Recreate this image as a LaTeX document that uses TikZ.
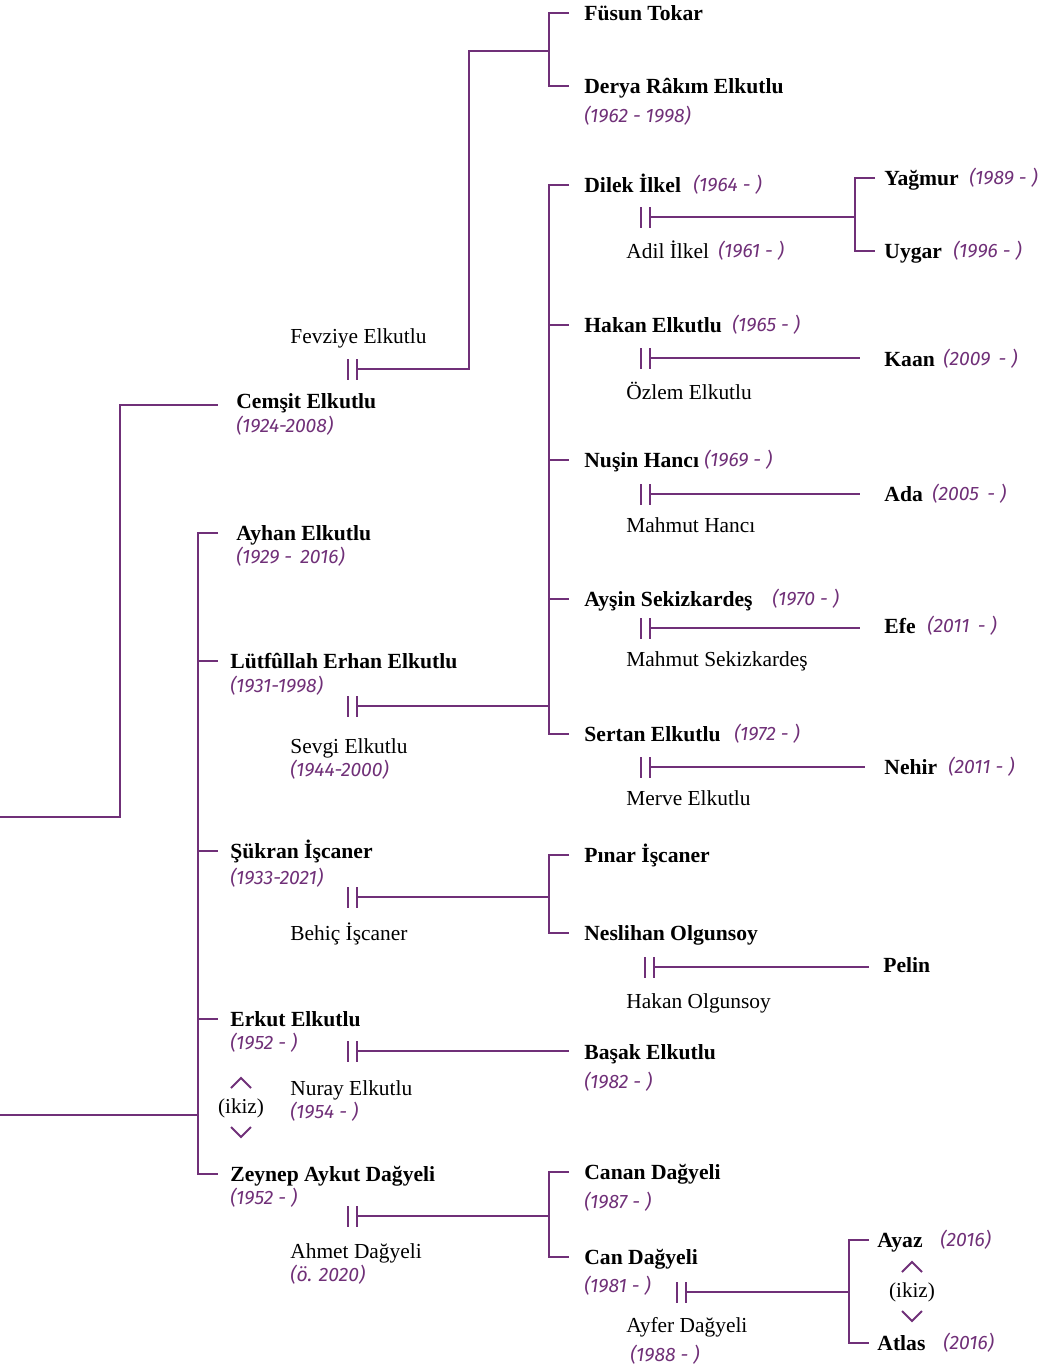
\documentclass[tikz,border=0pt]{standalone}
\usepackage{fontspec}
\setmainfont{Liberation Serif}
\newfontfamily\datefont{Fira Sans}
\usetikzlibrary{positioning}
\tikzstyle{every link} = []
\tikzstyle{link} = [draw=soy, line width=1pt, every link]
\tikzstyle{person} = [anchor=west, inner sep=0pt, text height=9pt, text depth=2pt, font=\fontsize{10.8}{12}\selectfont\bfseries]
\tikzstyle{spouse} = [person, font=\fontsize{10.7}{12}\selectfont]
\tikzstyle{yil} = [anchor=west, inner sep=0pt, text=soy, text height=8.5pt, text depth=2pt, font=\fontsize{9.7}{11}\selectfont\datefont\itshape]
\definecolor{soy}{RGB}{112,48,120}
% evlilik isareti: iki dik cizgi
\newcommand{\evlilik}[2]{\coordinate (#1) at (#2);
  \draw[link] ([yshift=5pt]#1) -- ([yshift=-5.5pt]#1)
    ([xshift=-4.5pt,yshift=5pt]#1) -- ([xshift=-4.5pt,yshift=-5.5pt]#1);}
\begin{document}
\begin{tikzpicture}[x=0.5pt, y=-0.5pt]
        \useasboundingbox (0,0) rectangle (1040,1367);

        % Cemsit kolu
        \coordinate (kok1) at (0,817);
        \coordinate (k-kok1) at (120,817);
        \node[person] (cemsit) at (236,401) {Cemşit Elkutlu};
        \node[yil] (cemsit-y) at (236,426) {(1924-2008)};
        \node[spouse] (fevziye) at (290,336) {Fevziye Elkutlu};
        \draw[link] (kok1) -- (k-kok1) |- ([xshift=-9pt,yshift=-2pt]cemsit.west);
        \evlilik{m-fev}{357,369}
        \coordinate (k-fev) at (469,51);
        \coordinate (c-fev) at (549,51);
        \node[person] (fusun) at (584,13) {Füsun Tokar};
        \node[person] (derya) at (584,86) {Derya Râkım Elkutlu};
        \node[yil] (derya-y) at (584,116) {(1962 - 1998)};
        \draw[link] (m-fev) -| (k-fev) -- (c-fev);
        \draw[link] ([xshift=-7.5pt]fusun.west) -| (c-fev) |- ([xshift=-7.5pt]derya.west);

        % kardesler
        \coordinate (kok2) at (0,1115);
        \coordinate (c-kar) at (198,1115);
        \node[person] (ayhan) at (236,533) {Ayhan Elkutlu};
        \node[yil] (ayhan-y) at (236,557) {(1929 - \,2016)};
        \node[person] (lutfu) at (230,661) {Lütfûllah Erhan Elkutlu};
        \node[yil] (lutfu-y) at (230,686) {(1931-1998)};
        \node[spouse] (sevgi) at (290,746) {Sevgi Elkutlu};
        \node[yil] (sevgi-y) at (290,770) {(1944-2000)};
        \node[person] (sukran) at (230,851) {Şükran İşcaner};
        \node[yil] (sukran-y) at (230,878) {(1933-2021)};
        \node[spouse] (behic) at (290,933) {Behiç İşcaner};
        \node[person] (erkut) at (230,1019) {Erkut Elkutlu};
        \node[yil] (erkut-y) at (230,1043) {(1952 - )};
        \node[spouse] (nuray) at (290,1088) {Nuray Elkutlu};
        \node[yil] (nuray-y) at (290,1112) {(1954 - )};
        \node[person] (zeynep) at (230,1174) {Zeynep Aykut Dağyeli};
        \node[yil] (zeynep-y) at (230,1198) {(1952 - )};
        \node[spouse] (ahmet) at (290,1251) {Ahmet Dağyeli};
        \node[yil] (ahmet-y) at (290,1275) {(ö. 2020)};
        \draw[link] (kok2) -- (c-kar);
        \draw[link] ([xshift=-9pt]ayhan.west) -| (c-kar) |- ([xshift=-6pt]zeynep.west);
        \foreach \k in {lutfu, sukran, erkut}
            \draw[link] (c-kar |- \k.west) -- ([xshift=-6pt]\k.west);

        % ikiz (Erkut - Zeynep)
        \node (ikiz1) at (241,1108) {\fontsize{10.6}{12}\selectfont(ikiz)};
        \draw[link] (231,1088) -- (241,1078) -- (251,1088);
        \draw[link] (231,1127) -- (241,1137) -- (251,1127);

        % Lutfullah cocuklari
        \evlilik{m-lut}{357,706}
        \coordinate (c-lut) at (549,706);
        \node[person] (dilek) at (584,185) {Dilek İlkel};
        \node[yil] (dilek-y) at (693,185) {(1964 - )};
        \node[spouse] (adil) at (626,251) {Adil İlkel};
        \node[yil] (adil-y) at (718,251) {(1961 - )};
        \node[person] (hakan) at (584,325) {Hakan Elkutlu};
        \node[yil] (hakan-y) at (732,325) {(1965 - )};
        \node[spouse] (ozlem) at (626,392) {Özlem Elkutlu};
        \node[person] (nusin) at (584,460) {Nuşin Hancı};
        \node[yil] (nusin-y) at (704,460) {(1969 - )};
        \node[spouse] (mahmut1) at (626,525) {Mahmut Hancı};
        \node[person] (aysin) at (584,599) {Ayşin Sekizkardeş};
        \node[yil] (aysin-y) at (772,599) {(1970 - )};
        \node[spouse] (mahmut2) at (626,659) {Mahmut Sekizkardeş};
        \node[person] (sertan) at (584,734) {Sertan Elkutlu};
        \node[yil] (sertan-y) at (734,734) {(1972 - )};
        \node[spouse] (merve) at (626,798) {Merve Elkutlu};
        \draw[link] (m-lut) -- (c-lut);
        \draw[link] ([xshift=-7.5pt]dilek.west) -| (c-lut) |- ([xshift=-7.5pt]sertan.west);
        \foreach \k in {hakan, nusin, aysin}
            \draw[link] (c-lut |- \k.west) -- ([xshift=-7.5pt]\k.west);

        % torunlar
        \node[person] (yagmur) at (884,178) {Yağmur};
        \node[yil] (yagmur-y) at (969,178) {(1989 - )};
        \node[person] (uygar) at (884,251) {Uygar};
        \node[yil] (uygar-y) at (953,251) {(1996 - )};
        \evlilik{m-dil}{650,217}
        \coordinate (c-dil) at (855,217);
        \draw[link] (m-dil) -- (c-dil);
        \draw[link] ([xshift=-4.5pt]yagmur.west) -| (c-dil) |- ([xshift=-4.5pt]uygar.west);

        \node[person] (kaan) at (884,359) {Kaan};
        \node[yil] (kaan-y) at (943,359) {(2009 \,- )};
        \evlilik{m-hak}{650,358}
        \draw[link] (m-hak) -- ([xshift=-12pt]kaan.west |- m-hak);

        \node[person] (ada) at (884,494) {Ada};
        \node[yil] (ada-y) at (932,494) {(2005 \,- )};
        \evlilik{m-nus}{650,494}
        \draw[link] (m-nus) -- ([xshift=-12pt]ada.west |- m-nus);

        \node[person] (efe) at (884,626) {Efe};
        \node[yil] (efe-y) at (927,626) {(2011 \,- )};
        \evlilik{m-ays}{650,628}
        \draw[link] (m-ays) -- ([xshift=-12pt]efe.west |- m-ays);

        \node[person] (nehir) at (884,767) {Nehir};
        \node[yil] (nehir-y) at (948,767) {(2011 - )};
        \evlilik{m-ser}{650,767}
        \draw[link] (m-ser) -- ([xshift=-9.5pt]nehir.west |- m-ser);

        % Sukran cocuklari
        \evlilik{m-suk}{357,897}
        \coordinate (c-suk) at (549,897);
        \node[person] (pinar) at (584,855) {Pınar İşcaner};
        \node[person] (neslihan) at (584,933) {Neslihan Olgunsoy};
        \node[spouse] (hakan2) at (626,1001) {Hakan Olgunsoy};
        \node[person] (pelin) at (883,965) {Pelin};
        \draw[link] (m-suk) -- (c-suk);
        \draw[link] ([xshift=-7.5pt]pinar.west) -| (c-suk) |- ([xshift=-7.5pt]neslihan.west);
        \evlilik{m-nes}{654,967}
        \draw[link] (m-nes) -- ([xshift=-7pt]pelin.west |- m-nes);

        % Erkut cocugu
        \evlilik{m-erk}{357,1051}
        \node[person] (basak) at (584,1052) {Başak Elkutlu};
        \node[yil] (basak-y) at (584,1082) {(1982 - )};
        \draw[link] (m-erk) -- ([xshift=-7.5pt]basak.west |- m-erk);

        % Zeynep cocuklari
        \evlilik{m-zey}{357,1216}
        \coordinate (c-zey) at (549,1216);
        \node[person] (canan) at (584,1172) {Canan Dağyeli};
        \node[yil] (canan-y) at (584,1202) {(1987 - )};
        \node[person] (can) at (584,1257) {Can Dağyeli};
        \node[yil] (can-y) at (584,1286) {(1981 - )};
        \node[spouse] (ayfer) at (626,1325) {Ayfer Dağyeli};
        \node[yil] (ayfer-y) at (630,1355) {(1988 - )};
        \draw[link] (m-zey) -- (c-zey);
        \draw[link] ([xshift=-7.5pt]canan.west) -| (c-zey) |- ([xshift=-7.5pt]can.west);

        \evlilik{m-can}{686,1292}
        \coordinate (c-can) at (849,1292);
        \node[person] (ayaz) at (877,1240) {Ayaz};
        \node[yil] (ayaz-y) at (940,1240) {(2016)};
        \node[person] (atlas) at (877,1343) {Atlas};
        \node[yil] (atlas-y) at (943,1343) {(2016)};
        \draw[link] (m-can) -- (c-can);
        \draw[link] ([xshift=-4pt]ayaz.west) -| (c-can) |- ([xshift=-4pt]atlas.west);
        \node (ikiz2) at (912,1292) {\fontsize{10.6}{12}\selectfont(ikiz)};
        \draw[link] (902,1272) -- (912,1262) -- (922,1272);
        \draw[link] (902,1311) -- (912,1321) -- (922,1311);
\end{tikzpicture}
\end{document}
